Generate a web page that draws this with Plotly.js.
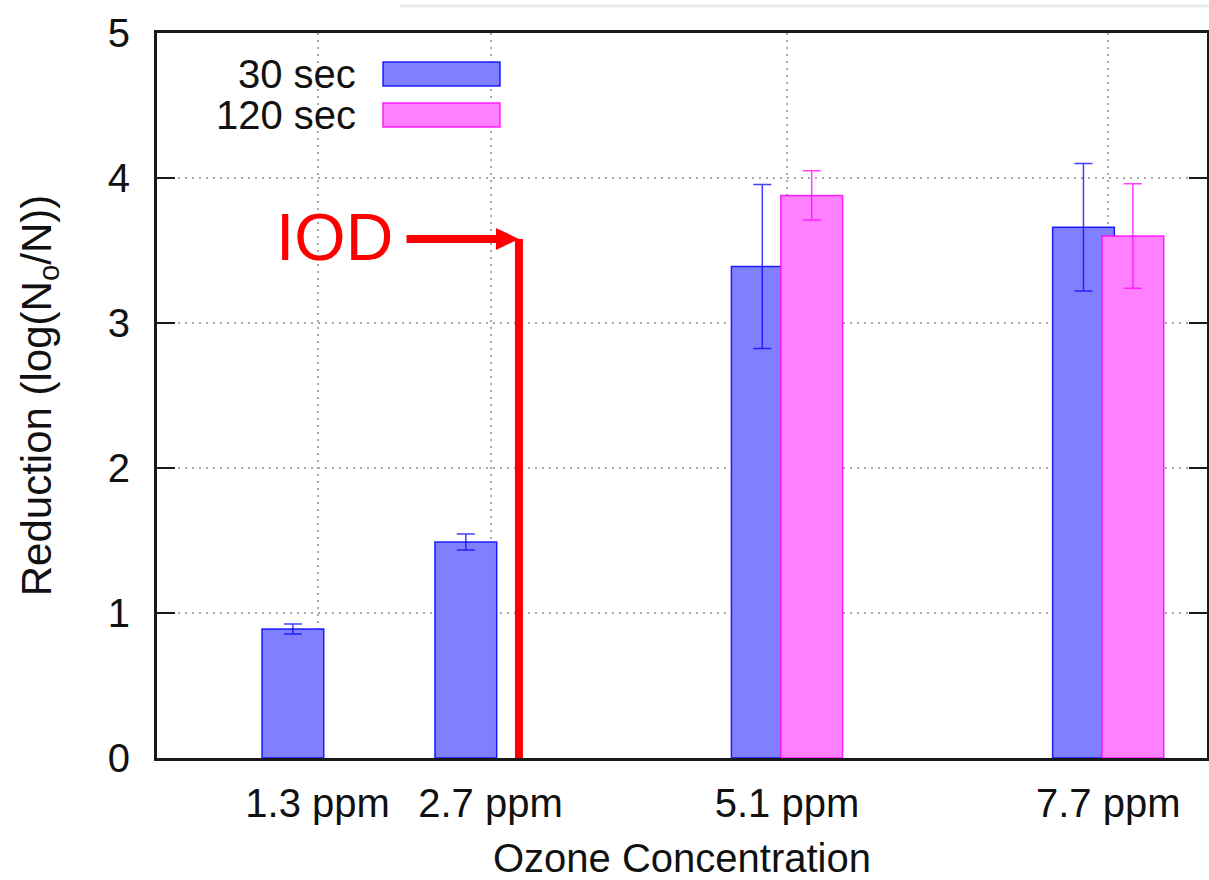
<!DOCTYPE html>
<html>
<head>
<meta charset="utf-8">
<script src="https://cdn.plot.ly/plotly-3.0.1.min.js"></script>
<style>
  html, body { margin: 0; padding: 0; background: #ffffff; }
  #chart { width: 1209px; height: 880px; }
</style>
</head>
<body>
<div id="chart"></div>
<script>
// Ozone concentration (ppm) and the matching axis labels
const concentrations = [1.3, 2.7, 5.1, 7.7];
const concentrationLabels = ['1.3 ppm', '2.7 ppm', '5.1 ppm', '7.7 ppm'];

// Log reduction after 30 s exposure, with its error
const reduction30 = [0.89, 1.49, 3.39, 3.66];
const error30 = [0.035, 0.055, 0.565, 0.44];

// Log reduction after 120 s exposure (not measured at the two lowest levels)
const reduction120 = [null, null, 3.88, 3.60];
const error120 = [null, null, 0.17, 0.36];

// Series names
const seriesNames = ['30 sec', '120 sec'];

// IOD marker: horizontal position (ppm) and arrow height
const iodX = 2.93;
const iodY = 3.58;
const iodTextX = 1.44;

const FONT = 'Liberation Sans, Arial, Helvetica, sans-serif';
const INK = '#111111';
const BLUE_FILL = '#8080ff', BLUE_EDGE = 'rgba(0,0,255,0.85)', BLUE_ERR = 'rgba(0,0,255,0.75)';
const PINK_FILL = '#ff80ff', PINK_EDGE = 'rgba(255,0,255,0.85)', PINK_ERR = 'rgba(255,0,255,0.75)';
const RED = '#ff0000';
const GRID = '#a8a8a8';
const BAR_WIDTH = 0.5;
const X_RANGE = [0, 8.5];
const TEXT_SIZE = 40;

const traces = [
  {
    type: 'bar',
    name: seriesNames[0],
    x: concentrations,
    y: reduction30,
    width: BAR_WIDTH,
    offset: -0.45,
    marker: { color: BLUE_FILL, line: { color: BLUE_EDGE, width: 1.5 } },
    error_y: { type: 'data', array: error30, visible: true, color: BLUE_ERR, thickness: 1.5, width: 9 },
    showlegend: false,
    hoverinfo: 'x+y'
  },
  {
    type: 'bar',
    name: seriesNames[1],
    x: concentrations,
    y: reduction120,
    width: BAR_WIDTH,
    offset: -0.05,
    marker: { color: PINK_FILL, line: { color: PINK_EDGE, width: 1.5 } },
    error_y: { type: 'data', array: error120, visible: true, color: PINK_ERR, thickness: 1.5, width: 9 },
    showlegend: false,
    hoverinfo: 'x+y'
  }
];

// Plot-area helpers for the key drawn in the upper-left corner
const plotLeft = 157, plotRight = 1207, plotTop = 33, plotBottom = 758;
const px = v => (v - plotLeft) / (plotRight - plotLeft);
const py = v => (plotBottom - v) / (plotBottom - plotTop);

const keyRows = [
  { label: seriesNames[0], fill: BLUE_FILL, edge: BLUE_EDGE, cy: 74 },
  { label: seriesNames[1], fill: PINK_FILL, edge: PINK_EDGE, cy: 115 }
];

const shapes = [
  // faint strip along the very top edge
  { type: 'line', xref: 'paper', yref: 'paper', x0: px(400), x1: px(1209), y0: py(6), y1: py(6),
    line: { color: '#ececec', width: 3 }, layer: 'above' },
  // white backing behind the key, above the gridlines
  { type: 'rect', xref: 'paper', yref: 'paper', x0: px(159), x1: px(515), y0: py(142), y1: py(54),
    fillcolor: '#ffffff', line: { width: 0 }, layer: 'between' },
  // IOD vertical marker
  { type: 'line', xref: 'x', yref: 'y', x0: iodX, x1: iodX, y0: 0, y1: iodY,
    line: { color: RED, width: 8 }, layer: 'above' },
  // IOD horizontal arrow shaft
  { type: 'line', xref: 'x', yref: 'y', x0: 2.02, x1: iodX - 0.17, y0: iodY, y1: iodY,
    line: { color: RED, width: 8 }, layer: 'above' },
  // IOD arrow head (pixel-sized, anchored at the tip)
  { type: 'path', xref: 'x', yref: 'y', xsizemode: 'pixel', ysizemode: 'pixel',
    xanchor: iodX, yanchor: iodY, path: 'M 0 0 L -23 11 L -23 -11 Z',
    fillcolor: RED, line: { width: 0 }, layer: 'above' }
];

const annotations = [
  { xref: 'x', yref: 'y', x: iodTextX, y: iodY + 0.01, text: 'IOD', showarrow: false,
    font: { family: FONT, size: 66, color: RED }, xanchor: 'center', yanchor: 'middle' }
];

keyRows.forEach(r => {
  shapes.push({ type: 'rect', xref: 'paper', yref: 'paper',
    x0: px(383), x1: px(500), y0: py(r.cy + 12), y1: py(r.cy - 12),
    fillcolor: r.fill, line: { color: r.edge, width: 1.5 }, layer: 'above' });
  annotations.push({ xref: 'paper', yref: 'paper', x: px(358), y: py(r.cy), text: r.label,
    showarrow: false, xanchor: 'right', yanchor: 'middle',
    font: { family: FONT, size: TEXT_SIZE, color: INK } });
});

const layout = {
  width: 1209,
  height: 880,
  margin: { l: plotLeft, r: 1209 - plotRight, t: plotTop, b: 880 - plotBottom },
  paper_bgcolor: '#ffffff',
  plot_bgcolor: '#ffffff',
  barmode: 'overlay',
  font: { family: FONT, size: TEXT_SIZE, color: INK },
  showlegend: false,
  xaxis: {
    range: X_RANGE,
    tickmode: 'array',
    tickvals: concentrations,
    ticktext: concentrationLabels,
    ticks: '',
    ticklabelstandoff: 8,
    showgrid: true,
    gridcolor: GRID,
    griddash: '2px,5px',
    gridwidth: 2,
    zeroline: false,
    showline: true,
    mirror: true,
    linecolor: '#1a1a1a',
    linewidth: 3,
    tickfont: { family: FONT, size: TEXT_SIZE, color: INK },
    title: { text: 'Ozone Concentration', standoff: 22, font: { family: FONT, size: TEXT_SIZE, color: INK } }
  },
  xaxis2: {
    overlaying: 'x',
    side: 'top',
    anchor: 'y',
    range: X_RANGE,
    tickmode: 'array',
    tickvals: concentrations,
    ticks: 'inside',
    ticklen: 18,
    tickwidth: 2.5,
    tickcolor: '#1a1a1a',
    showticklabels: false,
    showgrid: false,
    zeroline: false,
    showline: false
  },
  yaxis: {
    range: [0, 5],
    tickmode: 'linear',
    tick0: 0,
    dtick: 1,
    ticks: 'inside',
    ticklen: 18,
    tickwidth: 2.5,
    tickcolor: '#1a1a1a',
    ticklabelstandoff: 16,
    showgrid: true,
    gridcolor: GRID,
    griddash: '2px,5px',
    gridwidth: 2,
    zeroline: false,
    showline: true,
    mirror: 'ticks',
    linecolor: '#1a1a1a',
    linewidth: 3,
    tickfont: { family: FONT, size: TEXT_SIZE, color: INK },
    title: { text: 'Reduction (log(N<sub>o</sub>/N))', standoff: 44, font: { family: FONT, size: 42, color: INK } }
  },
  shapes: shapes,
  annotations: annotations
};

Plotly.newPlot('chart', traces, layout, { displayModeBar: false, staticPlot: true });
</script>
</body>
</html>
